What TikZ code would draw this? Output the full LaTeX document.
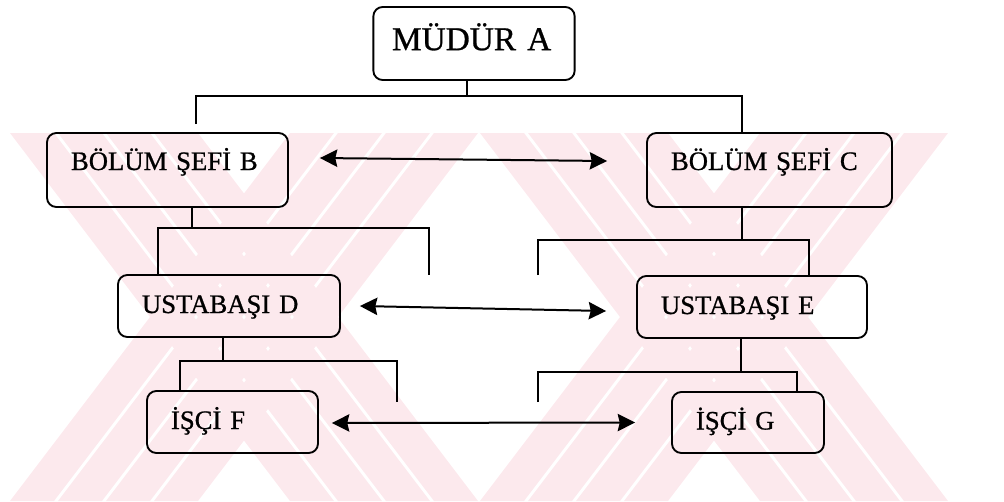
\documentclass[tikz,border=0pt]{standalone}
\usepackage{fontspec}
\setmainfont{Liberation Serif}[FakeBold=0.8]
\usetikzlibrary{arrows.meta, positioning}
\definecolor{wmpink}{RGB}{252,233,237}

\begin{document}
\begin{tikzpicture}[
  x=0.75pt, y=-0.75pt,
  box/.style={rectangle, rounded corners=7pt, draw, line width=1.4pt,
              inner xsep=18pt, inner ysep=0pt, align=left,
              font=\fontsize{20}{24}\selectfont, text height=14pt, text depth=3.5pt},
  link/.style={line width=1.4pt},
  arr/.style={{Stealth[length=13pt,width=13pt,inset=1.5pt]}-{Stealth[length=13pt,width=13pt,inset=1.5pt]},
              line width=1.5pt},
  band/.style={fill=wmpink, draw=none}
]
  \useasboundingbox (0,0) rectangle (1004,501);

  % watermark stripes
  \foreach \t/\b in {10/290, 290/10, 480/760, 760/480}
    \foreach \k in {0,48,96,144}
      \fill[band] (\t+\k,133) -- (\t+\k+44,133) -- (\b+\k+44,501) -- (\b+\k,501) -- cycle;

  \node[box, text width=123pt, inner xsep=14pt, minimum height=54.75pt,
        font=\fontsize{25}{30}\selectfont, text height=17pt, text depth=7pt] (A) at (474,43.5) {MÜDÜR A};
  \node[box, text width=144.75pt, minimum height=55.5pt, text depth=14pt] (B) at (167.5,170) {BÖLÜM ŞEFİ B};
  \node[box, text width=147.75pt, minimum height=55.5pt, text depth=14pt] (C) at (769.5,170) {BÖLÜM ŞEFİ C};
  \node[box, text width=130.5pt, minimum height=46.5pt] (D) at (229,306) {USTABAŞI D};
  \node[box, text width=136.5pt, minimum height=46.5pt] (E) at (752,307) {USTABAŞI E};
  \node[box, text width=92.25pt, minimum height=46.5pt] (F) at (232.5,422) {İŞÇİ F};
  \node[box, text width=78pt, minimum height=45.75pt] (G) at (748,422.5) {İŞÇİ G};

  % A to B and C
  \coordinate (a0) at (467,96);
  \coordinate (a1) at (196,96);
  \coordinate (a2) at (742,96);
  \coordinate (aB) at (196,124);
  \draw[link] (A.south -| a0) -- (a0);
  \draw[link] (aB) -- (a1) -- (a2) -- (C.north -| a2);

  % B and C branches
  \coordinate (b0) at (192,228);
  \coordinate (b1) at (158,228);
  \coordinate (b2) at (429,228);
  \coordinate (bE) at (429,275);
  \draw[link] (B.south -| b0) -- (b0);
  \draw[link] (D.north -| b1) -- (b1) -- (b2) -- (bE);
  \coordinate (c0) at (742,240);
  \coordinate (c1) at (538,240);
  \coordinate (c2) at (809,240);
  \coordinate (cE) at (538,275);
  \draw[link] (C.south -| c0) -- (c0);
  \draw[link] (cE) -- (c1) -- (c2) -- (E.north -| c2);

  % D and E branches
  \coordinate (d0) at (223,361);
  \coordinate (d1) at (180,361);
  \coordinate (d2) at (397,361);
  \coordinate (dE) at (397,402);
  \draw[link] (D.south -| d0) -- (d0);
  \draw[link] (F.north -| d1) -- (d1) -- (d2) -- (dE);
  \coordinate (e0) at (741,372);
  \coordinate (e1) at (538,372);
  \coordinate (e2) at (797,372);
  \coordinate (eE) at (538,402);
  \draw[link] (E.south -| e0) -- (e0);
  \draw[link] (eE) -- (e1) -- (e2) -- (G.north -| e2);

  % side links
  \draw[arr] ([shift={(31,-12)}]B.east) -- ([shift={(-39,-9)}]C.west);
  \draw[arr] ([shift={(19,0)}]D.east) -- ([shift={(-30,4)}]E.west);
  \draw[arr] ([shift={(13,1)}]F.east) -- ([shift={(-36,0)}]G.west);
\end{tikzpicture}
\end{document}
